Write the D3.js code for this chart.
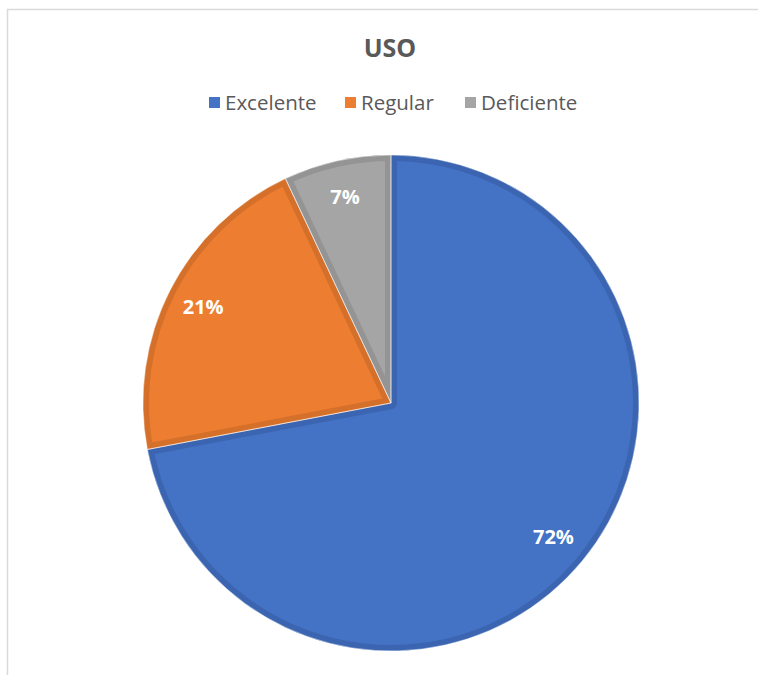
<!DOCTYPE html>
<html>
<head>
<meta charset="utf-8">
<script src="https://cdn.jsdelivr.net/npm/d3@7"></script>
<style>
  body { margin: 0; background: #fff; }
  svg { display: block; }
</style>
</head>
<body>
<div id="chart"></div>
<script>
// chart data
const categories = ["Excelente", "Regular", "Deficiente"];
const values = [72, 21, 7];
const labels = ["72%", "21%", "7%"];
const colors = ["#4472C4", "#ED7D31", "#A5A5A5"];
const borderColors = ["#3B65B0", "#D5702B", "#949494"];

// chart settings
const width = 758;
const height = 675;
const cx = 391;
const cy = 403;
const radius = 248;
const font = "'Open Sans', 'Liberation Sans', sans-serif";

const svg = d3
  .select("#chart")
  .append("svg")
  .attr("width", width)
  .attr("height", height);

// frame
svg
  .append("rect")
  .attr("x", 7.5)
  .attr("y", 9.5)
  .attr("width", width + 20)
  .attr("height", height + 20)
  .attr("fill", "#fff")
  .attr("stroke", "#D9D9D9")
  .attr("stroke-width", 1.5);

// title
svg
  .append("text")
  .attr("x", 390)
  .attr("y", 57)
  .attr("text-anchor", "middle")
  .style("font-family", font)
  .style("font-size", "25px")
  .style("font-weight", "bold")
  .attr("fill", "#595959")
  .text("USO");

// legend
const legendX = [209, 345, 465];
const legend = svg
  .selectAll(".legend")
  .data(categories)
  .enter()
  .append("g")
  .attr("class", "legend")
  .attr("transform", (d, i) => "translate(" + legendX[i] + ",103)");

legend
  .append("rect")
  .attr("x", 0)
  .attr("y", -6)
  .attr("width", 11)
  .attr("height", 11)
  .attr("fill", (d, i) => colors[i]);

legend
  .append("text")
  .attr("x", 16)
  .attr("y", 0)
  .attr("dy", "0.35em")
  .style("font-family", font)
  .style("font-size", "20.5px")
  .attr("fill", "#595959")
  .text((d) => d);

// pie
const pie = d3.pie().sort(null).value((d) => d);
const arc = d3.arc().innerRadius(0).outerRadius(radius);
const labelArc = d3
  .arc()
  .innerRadius(radius * 0.85)
  .outerRadius(radius * 0.85);

const arcs = pie(values);
const g = svg
  .append("g")
  .attr("transform", "translate(" + cx + "," + cy + ")");

const defs = svg.append("defs");
arcs.forEach((d, i) => {
  defs
    .append("clipPath")
    .attr("id", "clip" + i)
    .append("path")
    .attr("d", arc(d));
});

g.selectAll(".slice")
  .data(arcs)
  .enter()
  .append("path")
  .attr("class", "slice")
  .attr("d", arc)
  .attr("fill", (d, i) => colors[i])
  .attr("stroke", (d, i) => borderColors[i])
  .attr("stroke-width", 12)
  .attr("stroke-linejoin", "round")
  .attr("clip-path", (d, i) => "url(#clip" + i + ")");

// thin seams between slices
g.selectAll(".seam")
  .data(arcs)
  .enter()
  .append("path")
  .attr("class", "seam")
  .attr("d", arc)
  .attr("fill", "none")
  .attr("stroke", "#fff")
  .attr("stroke-opacity", 0.6)
  .attr("stroke-width", 0.8);

// data labels
g.selectAll(".label")
  .data(arcs)
  .enter()
  .append("text")
  .attr("class", "label")
  .attr("transform", (d) => "translate(" + labelArc.centroid(d) + ")")
  .attr("text-anchor", "middle")
  .attr("dy", "0.35em")
  .style("font-family", font)
  .style("font-size", "20px")
  .style("font-weight", "bold")
  .attr("fill", "#fff")
  .text((d, i) => labels[i]);
</script>
</body>
</html>
